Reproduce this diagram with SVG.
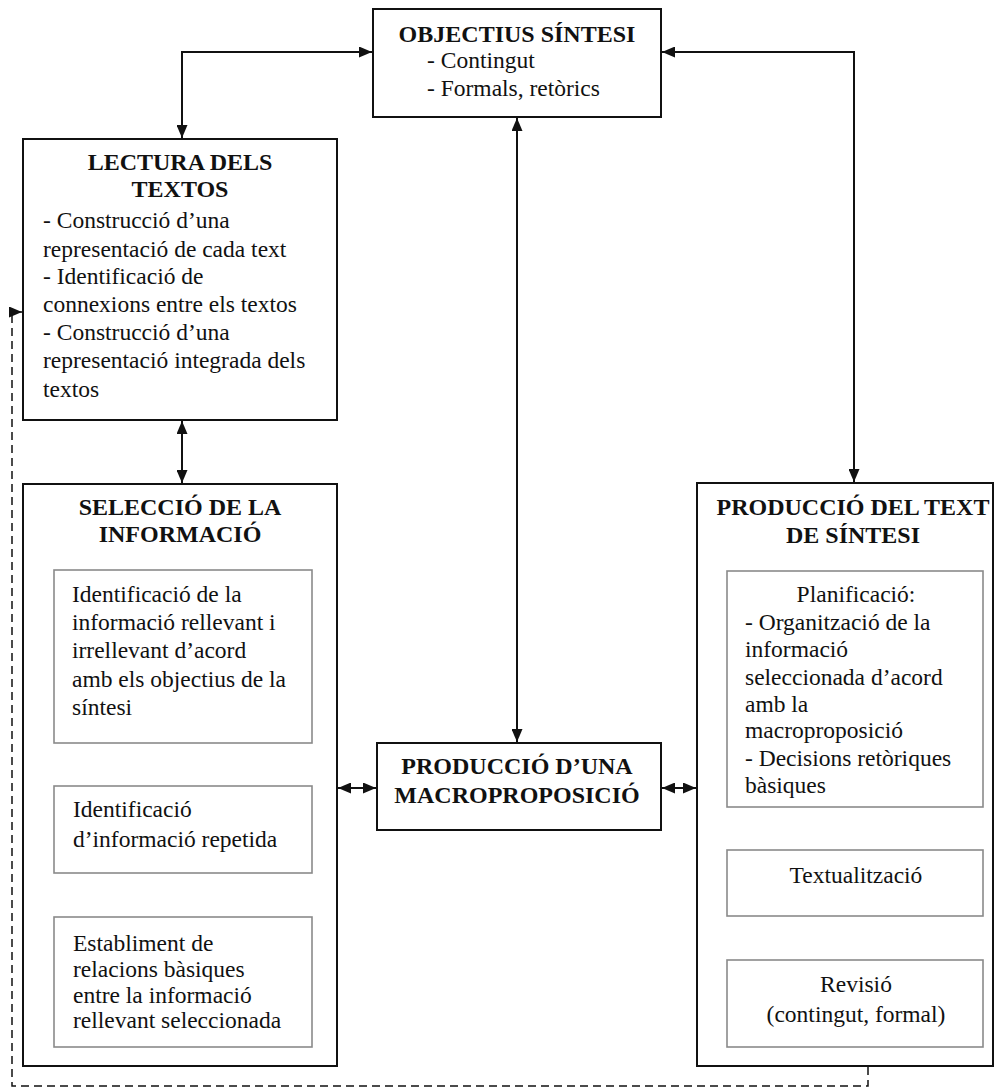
<svg xmlns="http://www.w3.org/2000/svg" width="1000" height="1089" viewBox="0 0 1000 1089">
<style>
.box{fill:#fff;stroke:#111;stroke-width:2}
.inner{fill:#fff;stroke:#8a8a8a;stroke-width:1.6}
.t{font-size:24px;font-weight:bold;text-anchor:middle}
.b{font-size:23.5px}
.c{text-anchor:middle}
.con{fill:none;stroke:#111;stroke-width:2}
.dash{fill:none;stroke:#111;stroke-width:1.5;stroke-dasharray:8 5}
.dot{fill:none;stroke:#333;stroke-width:1.2;stroke-dasharray:2 2}
</style>
<defs>
<marker id="ah" viewBox="0 0 13 11" refX="13" refY="5.5" markerWidth="13" markerHeight="11" markerUnits="userSpaceOnUse" orient="auto-start-reverse"><path d="M0,0 L13,5.5 L0,11 z" fill="#111"/></marker>
<marker id="sa" viewBox="0 0 7 7" refX="7" refY="3.5" markerWidth="7" markerHeight="7" markerUnits="userSpaceOnUse" orient="auto-start-reverse"><path d="M0,0 L7,3.5 L0,7 z" fill="#222"/></marker>
</defs>
<rect width="1000" height="1089" fill="#fff"/>
<g id="connectors">
<path class="con" d="M372,52 H182 V138" marker-start="url(#ah)" marker-end="url(#ah)"/>
<path class="con" d="M662,52 H854 V482" marker-start="url(#ah)" marker-end="url(#ah)"/>
<path class="con" d="M517,118 V742" marker-start="url(#ah)" marker-end="url(#ah)"/>
<path class="con" d="M182,421 V483" marker-start="url(#ah)" marker-end="url(#ah)"/>
<path class="con" d="M338,788 H376" marker-start="url(#ah)" marker-end="url(#ah)"/>
<path class="con" d="M662,788 H696" marker-start="url(#ah)" marker-end="url(#ah)"/>
<path class="dash" d="M868,1067 V1086 H12 V312 H22" marker-end="url(#ah)"/>
<path class="dot" d="M183,744 V785" marker-start="url(#sa)" marker-end="url(#sa)"/>
<path class="dot" d="M183,874 V916" marker-start="url(#sa)" marker-end="url(#sa)"/>
<path class="dot" d="M855,808 V849" marker-start="url(#sa)" marker-end="url(#sa)"/>
<path class="dot" d="M855,917 V959" marker-start="url(#sa)" marker-end="url(#sa)"/>
</g>
<g font-family="'Liberation Serif', 'DejaVu Serif', serif" fill="#111">
<g id="objectius">
<rect class="box" x="373" y="9" width="288" height="108"/>
<text class="t" x="517" y="42">OBJECTIUS SÍNTESI</text>
<text class="b" x="427" y="68">- Contingut</text>
<text class="b" x="427" y="96">- Formals, retòrics</text>
</g>
<g id="lectura">
<rect class="box" x="23" y="139" width="314" height="281"/>
<text class="t" x="180" y="170">LECTURA DELS</text>
<text class="t" x="180" y="197">TEXTOS</text>
<text class="b" x="43" y="228">- Construcció d’una</text>
<text class="b" x="43" y="257">representació de cada text</text>
<text class="b" x="43" y="284">- Identificació de</text>
<text class="b" x="43" y="312">connexions entre els textos</text>
<text class="b" x="43" y="340">- Construcció d’una</text>
<text class="b" x="43" y="368">representació integrada dels</text>
<text class="b" x="43" y="397">textos</text>
</g>
<g id="seleccio">
<rect class="box" x="23" y="484" width="314" height="582"/>
<text class="t" x="180" y="515">SELECCIÓ DE LA</text>
<text class="t" x="180" y="542">INFORMACIÓ</text>
</g>
<g id="sel-identificacio">
<rect class="inner" x="54" y="570" width="258" height="173"/>
<text class="b" x="72" y="602">Identificació de la</text>
<text class="b" x="72" y="630">informació rellevant i</text>
<text class="b" x="72" y="658">irrellevant d’acord</text>
<text class="b" x="72" y="687">amb els objectius de la</text>
<text class="b" x="72" y="715">síntesi</text>
</g>
<g id="sel-repetida">
<rect class="inner" x="54" y="786" width="258" height="87"/>
<text class="b" x="73" y="817">Identificació</text>
<text class="b" x="73" y="847">d’informació repetida</text>
</g>
<g id="sel-relacions">
<rect class="inner" x="54" y="917" width="258" height="130"/>
<text class="b" x="73" y="951">Establiment de</text>
<text class="b" x="73" y="977">relacions bàsiques</text>
<text class="b" x="73" y="1003">entre la informació</text>
<text class="b" x="73" y="1028">rellevant seleccionada</text>
</g>
<g id="macroproposicio">
<rect class="box" x="377" y="743" width="284" height="87"/>
<text class="t" x="517" y="774">PRODUCCIÓ D’UNA</text>
<text class="t" x="517" y="803">MACROPROPOSICIÓ</text>
</g>
<g id="produccio">
<rect class="box" x="697" y="483" width="296" height="583"/>
<text class="t" x="853" y="515">PRODUCCIÓ DEL TEXT</text>
<text class="t" x="853" y="543">DE SÍNTESI</text>
</g>
<g id="planificacio">
<rect class="inner" x="727" y="571" width="256" height="236"/>
<text class="b c" x="856" y="602">Planificació:</text>
<text class="b" x="745" y="630">- Organització de la</text>
<text class="b" x="745" y="657">informació</text>
<text class="b" x="745" y="685">seleccionada d’acord</text>
<text class="b" x="745" y="712">amb la</text>
<text class="b" x="745" y="738">macroproposició</text>
<text class="b" x="745" y="766">- Decisions retòriques</text>
<text class="b" x="745" y="793">bàsiques</text>
</g>
<g id="textualitzacio">
<rect class="inner" x="727" y="850" width="256" height="66"/>
<text class="b c" x="856" y="883">Textualització</text>
</g>
<g id="revisio">
<rect class="inner" x="727" y="960" width="256" height="87"/>
<text class="b c" x="856" y="992">Revisió</text>
<text class="b c" x="856" y="1022">(contingut, formal)</text>
</g>
</g>
</svg>
